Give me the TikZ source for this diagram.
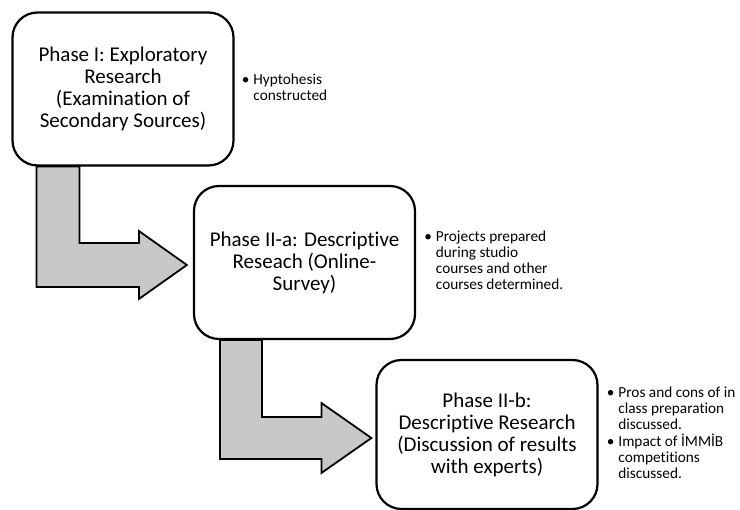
\documentclass[tikz,border=0pt]{standalone}
\usepackage{fontspec}
\setmainfont{Carlito}[Ligatures={NoCommon,NoRare,NoContextual}]
\usetikzlibrary{positioning,calc}
\definecolor{arrowgray}{HTML}{C8C8C8}
\begin{document}
\begin{tikzpicture}[x=1pt, y=-1pt,
	phase/.style={shape=rectangle, rounded corners=25pt, line width=2.2pt, draw=black, fill=white,
		minimum width=221pt, minimum height=153pt, align=center, inner sep=0pt,
		font=\fontsize{21}{22}\selectfont},
	notes/.style={inner sep=0pt, align=left, font=\fontsize{15.3}{16}\selectfont},
	flow/.style={line width=1.8pt, draw=black, fill=arrowgray, line join=miter}]
	\useasboundingbox (0,0) rectangle (740,510);
	\clip (0,0) rectangle (740,510);
	% phases
	\node (box1) at (123,89) [phase] {Phase I: Exploratory\\Research\\(Examination of\\Secondary Sources)};
	\node (box2) at (304.5,262.5) [phase] {Phase II-a: Descriptive\\Reseach (Online-\\Survey)};
	\node (box3) at (487,434.5) [phase, minimum height=149pt] {Phase II-b:\\Descriptive Research\\(Discussion of results\\with experts)};
	% notes
	\node (notes1) [notes, right=7pt of box1] {\begin{tabular}{@{}l@{\hspace{4pt}}l@{}}\textbullet & Hyptohesis\\ & constructed\end{tabular}};
	\node (notes2) [notes, right=8pt of box2] {\begin{tabular}{@{}l@{\hspace{4pt}}l@{}}\textbullet & Projects prepared\\ & during studio\\ & courses and other\\ & courses determined.\end{tabular}};
	\node (notes3) [notes, right=8pt of box3] {\begin{tabular}{@{}l@{\hspace{4pt}}l@{}}\textbullet & Pros and cons of in\\ & class preparation\\ & discussed.\\ \textbullet & Impact of İMMİB\\ & competitions\\ & discussed.\end{tabular}};
	% arrows
	\coordinate (tip1) at ($(box2.west)+(-6,2.5)$);
	\coordinate (tip2) at ($(box3.west)+(-4,3.5)$);
	\draw[flow] ($(box1.south west)+(25,0)$) -- ($(box1.south west)+(68,0)$) |- ($(tip1)+(-48,-22)$)
		-- ++(0,-12) -- (tip1) -- ($(tip1)+(-48,34)$) -- ++(0,-12) -| ($(box1.south west)+(25,0)$) -- cycle;
	\draw[flow] ($(box2.south west)+(27,0)$) -- ($(box2.south west)+(69,0)$) |- ($(tip2)+(-50,-21)$)
		-- ++(0,-14) -- (tip2) -- ($(tip2)+(-50,35)$) -- ++(0,-14) -| ($(box2.south west)+(27,0)$) -- cycle;
\end{tikzpicture}
\end{document}
